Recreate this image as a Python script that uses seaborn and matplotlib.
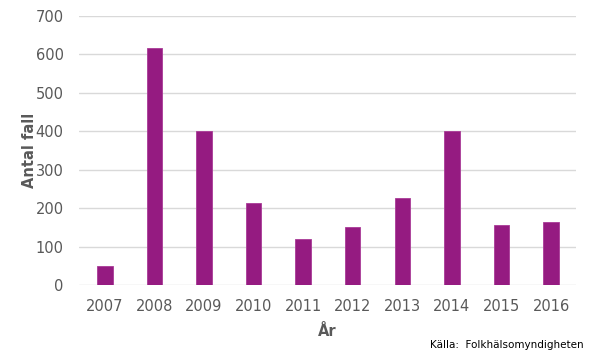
import matplotlib
matplotlib.use("Agg")
import matplotlib.pyplot as plt
import seaborn as sns
import pandas as pd

years = ["2007", "2008", "2009", "2010", "2011", "2012", "2013", "2014", "2015", "2016"]
cases = [50, 617, 400, 214, 120, 150, 226, 400, 155, 163]
yticks = [0, 100, 200, 300, 400, 500, 600, 700]

sns.set_theme(style="white")
plt.rcParams['font.family'] = ['DejaVu Sans']

df = pd.DataFrame({"År": years, "Antal fall": cases})

fig = plt.figure(figsize=(5.9, 3.54), dpi=100)
ax = fig.add_axes([0.134, 0.195, 0.842, 0.76])
sns.barplot(data=df, x="År", y="Antal fall", color="#951B81", width=0.31,
            saturation=1, ax=ax, zorder=3, edgecolor="#A93A97", linewidth=0.6)

ax.set_ylim(0, 700)
ax.set_yticks(yticks)
ax.set_xlim(-0.52, 9.5)
ax.grid(axis="y", color="#D9D9D9", linewidth=1.0, zorder=0)
ax.set_axisbelow(True)
for s in ax.spines.values():
    s.set_visible(False)
ax.tick_params(axis="both", length=0, labelsize=10.5, colors="#595959")
ax.tick_params(axis="x", pad=10)
ax.tick_params(axis="y", pad=11)
ax.set_ylabel("Antal fall", fontsize=10.5, fontweight="bold", color="#595959", labelpad=-1)
ax.set_xlabel("År", fontsize=10.5, fontweight="bold", color="#595959", labelpad=7)

fig.text(0.99, 0.012, "Källa:  Folkhälsomyndigheten", ha="right", va="bottom",
         fontsize=7.5, color="#000000")

fig.savefig("out.png", dpi=100, facecolor="white")
